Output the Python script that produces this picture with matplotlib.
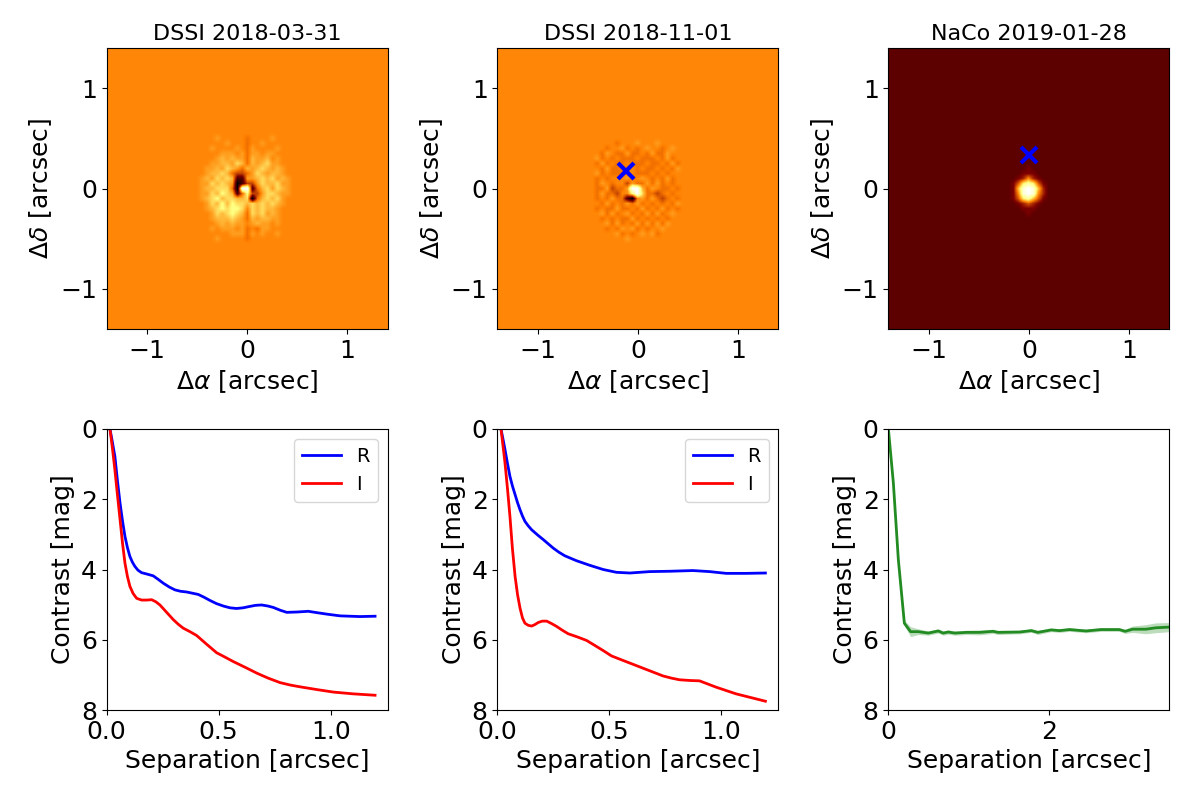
import numpy as np
import matplotlib
matplotlib.use("Agg")
import matplotlib.pyplot as plt

# Contrast curves, panel 1
sep_a_r = [.015,.026,.037,.048,.060,.071,.082,.093,.104,.115,.126,.14,.156,.18,.208,.23,.253,.28,.305,.33,.357,.409,.435,.461,.49,.521,.55,.580,.61,.640,.665,.692,.72,.744,.775,.804,.85,.900,.94,.982,1.042,1.131,1.198]
mag_a_r = [0,.38,.78,1.45,2.11,2.62,3.06,3.38,3.63,3.79,3.91,4.02,4.09,4.13,4.18,4.28,4.39,4.50,4.58,4.62,4.64,4.71,4.79,4.88,4.97,5.04,5.09,5.11,5.09,5.05,5.02,5.01,5.04,5.08,5.16,5.22,5.21,5.19,5.23,5.27,5.32,5.34,5.33]
sep_a_i = [.015,.026,.037,.048,.060,.071,.082,.093,.104,.118,.134,.156,.18,.201,.22,.238,.268,.298,.32,.342,.372,.402,.445,.491,.53,.565,.62,.670,.72,.774,.82,.863,.94,1.012,1.1,1.198]
mag_a_i = [0,.55,1.16,1.85,2.58,3.25,3.82,4.2,4.48,4.68,4.82,4.87,4.87,4.86,4.92,5.01,5.22,5.43,5.56,5.67,5.77,5.88,6.12,6.37,6.50,6.62,6.79,6.95,7.09,7.22,7.29,7.34,7.42,7.49,7.54,7.58]
# Contrast curves, panel 2
sep_b_r = [.016,.025,.034,.045,.056,.067,.079,.09,.101,.112,.123,.138,.153,.18,.205,.227,.249,.275,.301,.327,.353,.412,.472,.531,.591,.680,.769,.872,.947,1.021,1.110,1.196]
mag_b_r = [0,.29,.59,.98,1.35,1.62,1.87,2.10,2.30,2.48,2.63,2.76,2.87,3.02,3.15,3.27,3.39,3.51,3.61,3.68,3.75,3.88,4.0,4.08,4.10,4.06,4.05,4.03,4.06,4.11,4.11,4.10]
sep_b_i = [.016,.025,.034,.045,.056,.067,.079,.09,.101,.112,.123,.138,.153,.167,.182,.2,.220,.242,.264,.29,.316,.357,.398,.442,.475,.509,.561,.650,.739,.775,.813,.86,.902,.976,1.065,1.196]
mag_b_i = [0,.48,.97,1.7,2.49,3.4,4.20,4.72,5.10,5.38,5.53,5.59,5.61,5.57,5.51,5.47,5.47,5.54,5.62,5.73,5.83,5.92,6.02,6.19,6.32,6.46,6.59,6.81,7.03,7.09,7.14,7.16,7.17,7.35,7.54,7.75]
# Contrast curve, panel 3
sep_c = [0,.062,.124,.199,.277,.373,.497,.621,.683,.745,.828,.973,1.139,1.304,1.366,1.636,1.781,1.863,2.029,2.133,2.257,2.464,2.650,2.878,2.952,3.043,3.209,3.333,3.503]
mag_c = [0,1.54,3.72,5.53,5.77,5.77,5.81,5.75,5.81,5.78,5.81,5.79,5.79,5.76,5.79,5.78,5.74,5.79,5.72,5.74,5.71,5.75,5.71,5.71,5.76,5.70,5.70,5.66,5.64]
err_c = [.02,.03,.05,.08,.14,.08,.06,.06,.06,.06,.06,.06,.07,.06,.06,.05,.05,.06,.05,.05,.05,.05,.05,.05,.06,.09,.13,.14,.13]

# Image cells read by eye, each digit one 0.05 arcsec cell, top row first
digit_levels_dssi = [0, .15, .38, .47, .515, .56, .61, .68, .76, 1.0]
digit_levels_naco = [.18, .24, .32, .42, .52, .62, .72, .82, .92, 1.0]
cells_a = [
    "444454444434444544444",
    "444444544434454444444",
    "444544445435444454444",
    "444445554535545544444",
    "444456565536556454444",
    "444556657636567554444",
    "445565765365676565444",
    "445667632235765665444",
    "456576761155676756544",
    "455767650122576675544",
    "456677730991367576544",
    "455768761382257765544",
    "456786776670367675444",
    "445768687767676765444",
    "445678788747676654444",
    "444576787637675654444",
    "444566676536566554444",
    "444456565545655454444",
    "444545554534355444444",
    "444444455535454454444",
    "444454444434444444444",
]
cells_b = [
    "444444444444444444444",
    "444444344454445444444",
    "444434453434544345444",
    "444354335334353354444",
    "445343433343334353444",
    "443534334333433435344",
    "444353343434334343544",
    "445343334433343434444",
    "443434445345434353444",
    "443543442533535343444",
    "443352335996354334344",
    "443533244897332343444",
    "443435331045353234344",
    "444353435353434343544",
    "443433533435343534344",
    "444535345343535345444",
    "444343433534343434444",
    "444453534353535354444",
    "444434354534344544444",
    "444444534345453444444",
    "444444445444444444444",
]
cells_c = [
    "00000000000",
    "00000100000",
    "00001110000",
    "00012421000",
    "00136763100",
    "00158985200",
    "00148984200",
    "00136753100",
    "00012321000",
    "00001110000",
    "00000100000",
]
image_titles = ["DSSI 2018-03-31", "DSSI 2018-11-01", "NaCo 2019-01-28"]
companion_x = [None, -0.117, 0.0]
companion_y = [None, 0.17, 0.33]


def field(rows, levels):
    n = 57
    img = np.full((n, n), levels[4] if levels[0] == 0 else levels[0], dtype=float)
    m = len(rows)
    s = (n - m) // 2
    for i, row in enumerate(rows):
        for j, ch in enumerate(row):
            img[s + i, s + j] = levels[int(ch)]
    return img


plt.rcParams["font.family"] = "DejaVu Sans"
fig = plt.figure(figsize=(12, 8), dpi=100)
W, H = 1200.0, 800.0
lefts = [106.6, 497.4, 888.4]
axw = 281.0


def make_axes(l, top):
    return fig.add_axes([l / W, 1 - (top + axw) / H, axw / W, axw / H])


images = [field(cells_a, digit_levels_dssi), field(cells_b, digit_levels_dssi), field(cells_c, digit_levels_naco)]
for k in range(3):
    ax = make_axes(lefts[k], 48)
    ax.imshow(images[k], origin="upper", cmap="afmhot", vmin=0, vmax=1,
              extent=[-1.425, 1.425, -1.425, 1.425], interpolation="bilinear")
    ax.set_xlim(-1.4, 1.4)
    ax.set_ylim(-1.4, 1.4)
    ax.set_xticks([-1, 0, 1])
    ax.set_yticks([-1, 0, 1])
    ax.tick_params(labelsize=18)
    ax.set_xlabel(r"$\Delta\alpha$ [arcsec]", fontsize=18)
    ax.set_ylabel(r"$\Delta\delta$ [arcsec]", fontsize=18)
    ax.set_title(image_titles[k], fontsize=16)
    if companion_x[k] is not None:
        ax.plot([companion_x[k]], [companion_y[k]], "x", color="blue", ms=11, mew=3)

curves = [((sep_a_r, mag_a_r), (sep_a_i, mag_a_i)), ((sep_b_r, mag_b_r), (sep_b_i, mag_b_i))]
for k in range(2):
    ax = make_axes(lefts[k], 429)
    (xr, yr), (xi, yi) = curves[k]
    ax.plot(xr, yr, color="blue", lw=2, label="R")
    ax.plot(xi, yi, color="red", lw=2, label="I")
    ax.set_xlim(0, 1.254)
    ax.set_xticks([0, 0.5, 1.0])
    ax.legend(loc="upper right", fontsize=14)

ax = make_axes(lefts[2], 429)
ax.plot(sep_c, mag_c, color="forestgreen", lw=2)
ax.fill_between(sep_c, np.array(mag_c) - np.array(err_c), np.array(mag_c) + np.array(err_c),
                color="forestgreen", alpha=0.3, lw=0)
ax.set_xlim(0, 3.503)
ax.set_xticks([0, 2])

for ax in fig.axes[3:]:
    ax.set_ylim(8, 0)
    ax.set_yticks([0, 2, 4, 6, 8])
    ax.tick_params(labelsize=18)
    ax.set_xlabel("Separation [arcsec]", fontsize=18)
    ax.set_ylabel("Contrast [mag]", fontsize=18)

fig.savefig("out.png", dpi=100)
